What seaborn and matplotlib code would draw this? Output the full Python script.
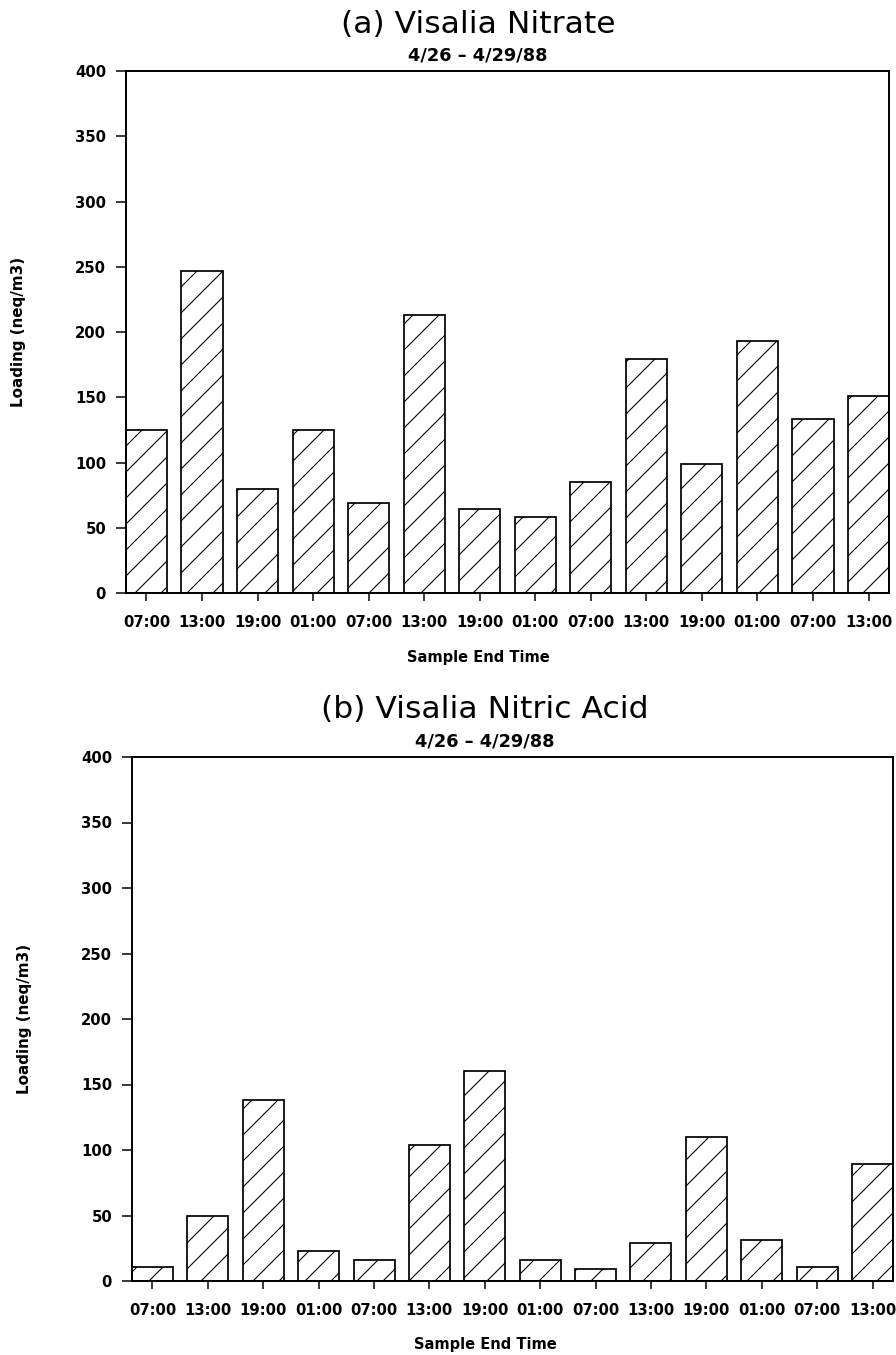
import matplotlib
matplotlib.use("Agg")
import matplotlib.pyplot as plt
import pandas as pd
import seaborn as sns

# Sample end times (6-hour samples, 4/26 - 4/29/88)
time_labels = ["07:00", "13:00", "19:00", "01:00", "07:00", "13:00", "19:00",
               "01:00", "07:00", "13:00", "19:00", "01:00", "07:00", "13:00"]

# Loadings in neq/m3
nitrate = [125, 247, 80, 125, 69, 213, 64, 58, 85, 179, 99, 193, 133, 151]
nitric_acid = [11, 50, 138, 23, 16, 104, 160, 16, 9, 29, 110, 31, 11, 89]

panel_titles = ["(a) Visalia Nitrate", "(b) Visalia Nitric Acid"]
period_label = "4/26 \u2013 4/29/88"
y_ticks = [0, 50, 100, 150, 200, 250, 300, 350, 400]
x_label = "Sample End Time"
y_label = "Loading (neq/m3)"

sns.set_style("ticks")
plt.rcParams.update({
    "font.family": ["DejaVu Sans"],
    "font.weight": "bold",
    "hatch.linewidth": 0.5,
    "hatch.color": "black",
    "axes.linewidth": 0.9,
    "axes.edgecolor": "black",
    "axes.labelcolor": "black",
    "xtick.color": "black",
    "ytick.color": "black",
    "text.color": "black",
})

W, H, DPI = 896, 1355, 156
fig = plt.figure(figsize=(W / DPI, H / DPI), dpi=DPI)

# pixel layout of each panel: axes box, title/subtitle baselines, label centres
layouts = [
    dict(left=126, right=889, top=71, bottom=593, title_base=33, sub_base=60,
         center_x=478, ylab_x=19),
    dict(left=132, right=893, top=757, bottom=1281, title_base=718, sub_base=747,
         center_x=485, ylab_x=25),
]
series = [nitrate, nitric_acid]

for values, title, lay in zip(series, panel_titles, layouts):
    rect = [lay["left"] / W, 1 - lay["bottom"] / H,
            (lay["right"] - lay["left"]) / W, (lay["bottom"] - lay["top"]) / H]
    ax = fig.add_axes(rect)
    df = pd.DataFrame({"slot": list(range(len(values))), "loading": values})
    sns.barplot(data=df, x="slot", y="loading", color="white", saturation=1,
                edgecolor="black", linewidth=0.8, width=0.74, errorbar=None, ax=ax)
    for bar in ax.patches:
        bar.set_hatch("//")
        bar.set_facecolor("white")
        bar.set_edgecolor("black")

    ax.set_xlim(-0.369, len(values) - 1 + 0.369)
    ax.set_ylim(0, 400)
    ax.set_yticks(y_ticks)
    ax.set_yticklabels([str(v) for v in y_ticks])
    ax.set_xticks(range(len(values)))
    ax.set_xticklabels(time_labels)
    for s in ax.spines.values():
        s.set_visible(True)
        s.set_linewidth(0.9)
    ax.tick_params(axis="x", direction="out", length=3.7, width=0.7, pad=6.3,
                   labelsize=6.9)
    ax.tick_params(axis="y", direction="out", length=4.6, width=0.7, pad=4.6,
                   labelsize=6.9)
    for lab in ax.get_xticklabels() + ax.get_yticklabels():
        lab.set_fontweight("bold")

    axw = lay["right"] - lay["left"]
    axh = lay["bottom"] - lay["top"]
    ax.set_xlabel(x_label, fontsize=6.75, fontweight="bold", va="center")
    ax.xaxis.set_label_coords((lay["center_x"] - lay["left"]) / axw, -64 / axh)
    ax.set_ylabel(y_label, fontsize=7.0, fontweight="bold", va="center")
    ax.yaxis.set_label_coords((lay["ylab_x"] - lay["left"]) / axw, 0.5)

    fig.text(lay["center_x"] / W, 1 - lay["title_base"] / H, title,
             fontweight="normal", fontsize=14.5, ha="center", va="baseline")
    fig.text(lay["center_x"] / W, 1 - lay["sub_base"] / H, period_label,
             fontsize=8.2, fontweight="bold", ha="center", va="baseline")

fig.savefig("out.png", dpi=DPI, facecolor="white")
